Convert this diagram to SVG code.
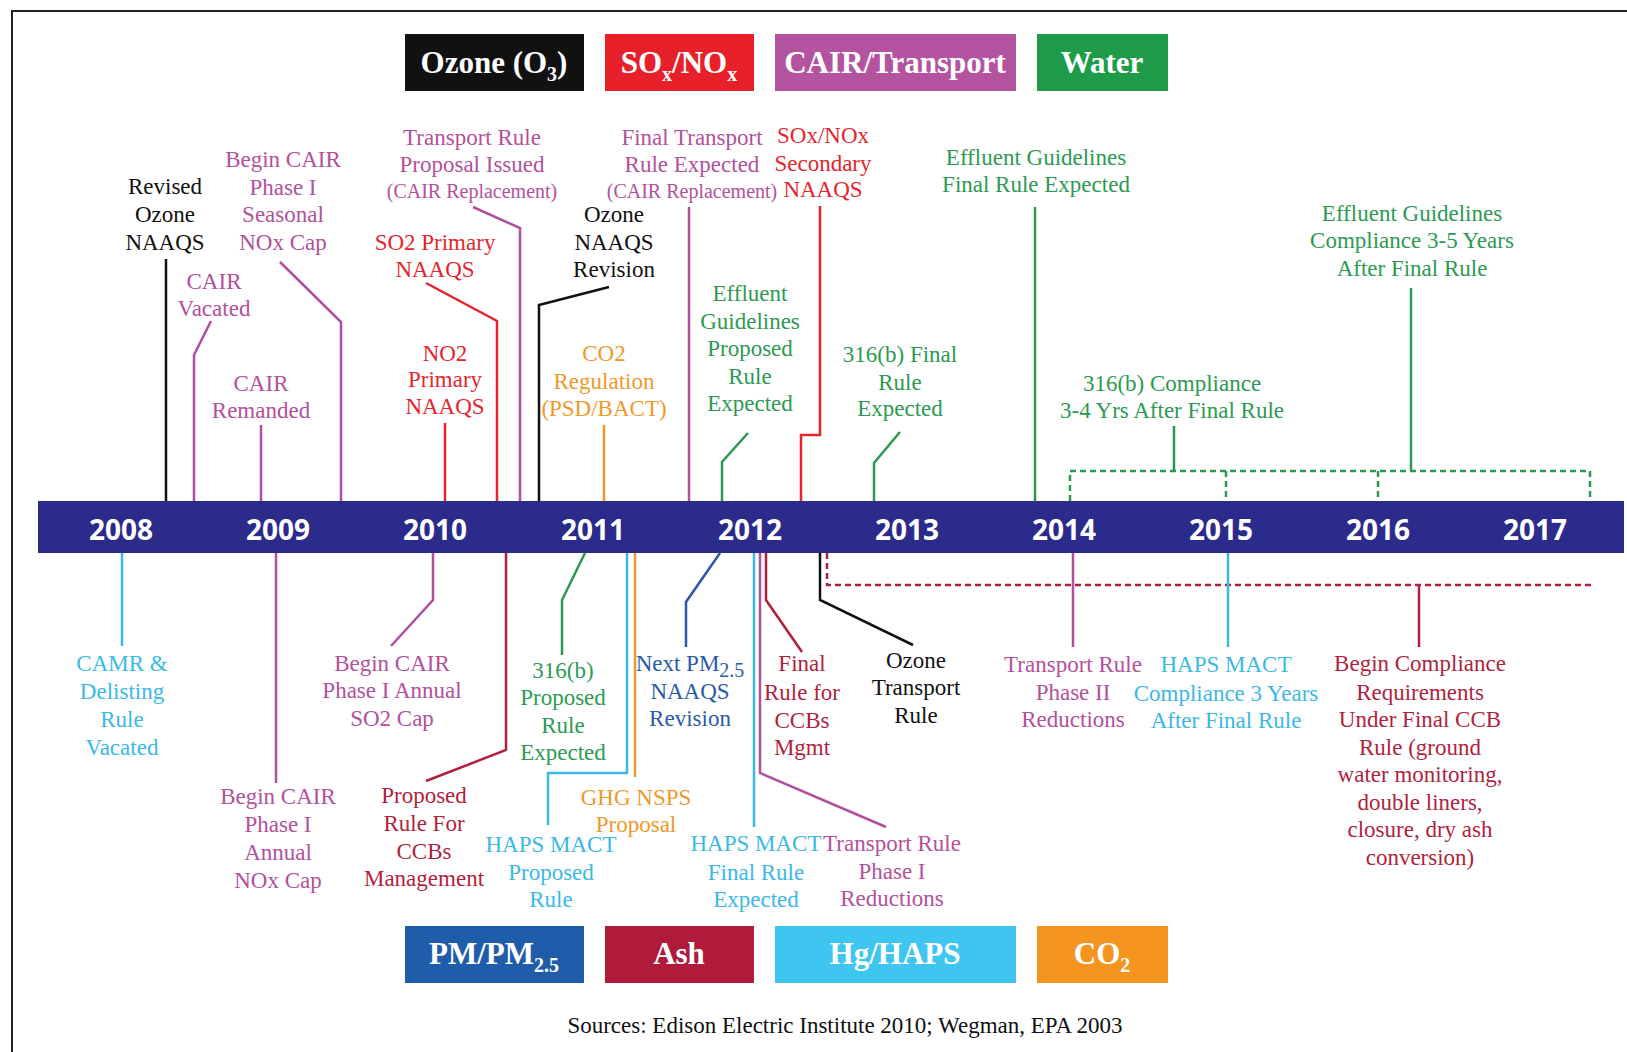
<svg xmlns="http://www.w3.org/2000/svg" width="1627" height="1052" viewBox="0 0 1627 1052">
<style>
text{font-family:"Liberation Serif","Times New Roman",serif}
.t{font-size:23px;text-anchor:middle}
.s{font-size:20px}
.oz{fill:#111}.sx{fill:#e3262e}.ca{fill:#b4509c}.wa{fill:#2c9a52}.pm{fill:#2a5aa8}.as{fill:#b21f3e}.hg{fill:#3ab9e6}.co{fill:#f0982a}
.l{fill:none;stroke-width:2.5}
.loz{stroke:#111}.lsx{stroke:#e3262e}.lca{stroke:#b04fa0}.lwa{stroke:#2a9a50}.lpm{stroke:#2a5aa8}.las{stroke:#b21f3e}.lhg{stroke:#3ab9e6}.lco{stroke:#f0982a}
.d{stroke-dasharray:6 4}
.lg{font-size:31px;font-weight:bold;fill:#fff;text-anchor:middle}
.sb{font-size:20px}
.yr{font-family:"Open Sans","DejaVu Sans",sans-serif;font-weight:bold;font-size:28px;fill:#fff;text-anchor:middle}
</style>
<rect width="1627" height="1052" fill="#fff"/>
<path d="M12 1052 V11 H1627" fill="none" stroke="#222" stroke-width="2"/>

<g id="legend-top">
<g id="leg-ozone"><rect x="405" y="34" width="179" height="57" fill="#111"/><text class="lg" x="494" y="73">Ozone (O<tspan class="sb" dy="8">3</tspan><tspan dy="-8">)</tspan></text></g>
<g id="leg-sox"><rect x="605" y="34" width="149" height="57" fill="#e8202a"/><text class="lg" x="679" y="73">SO<tspan class="sb" dy="8">x</tspan><tspan dy="-8">/NO</tspan><tspan class="sb" dy="8">x</tspan></text></g>
<g id="leg-cair"><rect x="775" y="34" width="241" height="57" fill="#b4539f"/><text class="lg" x="895" y="73">CAIR/Transport</text></g>
<g id="leg-water"><rect x="1037" y="34" width="131" height="57" fill="#1e9c4a"/><text class="lg" x="1102" y="73">Water</text></g>
</g>

<g id="timeline">
<rect x="38" y="501" width="1586" height="52" fill="#2b2b8c"/>
<text class="yr" x="121" y="540">2008</text>
<text class="yr" x="278" y="540">2009</text>
<text class="yr" x="435" y="540">2010</text>
<text class="yr" x="593" y="540">2011</text>
<text class="yr" x="750" y="540">2012</text>
<text class="yr" x="907" y="540">2013</text>
<text class="yr" x="1064" y="540">2014</text>
<text class="yr" x="1221" y="540">2015</text>
<text class="yr" x="1378" y="540">2016</text>
<text class="yr" x="1535" y="540">2017</text>
</g>

<g id="connectors">
<path class="l loz" d="M166 259 V501"/>
<path class="l lca" d="M280 262 L341 322 V501"/>
<path class="l lca" d="M211 321 L194 355 V501"/>
<path class="l lca" d="M261 425 V501"/>
<path class="l lca" d="M473 207 L520 228 V501"/>
<path class="l lsx" d="M426 283 L497 321 V501"/>
<path class="l lsx" d="M445 423 V501"/>
<path class="l loz" d="M609 287 L539 305 V501"/>
<path class="l lco" d="M604 425 V501"/>
<path class="l lca" d="M689 207 V501"/>
<path class="l lsx" d="M820 206 V435 H801 V501"/>
<path class="l lwa" d="M748 433 L722 462 V501"/>
<path class="l lwa" d="M900 432 L874 463 V501"/>
<path class="l lwa" d="M1035 207 V501"/>
<path class="l lwa" d="M1411 288 V471"/>
<path class="l lwa" d="M1174 426 V471"/>
<path class="l lwa d" d="M1070 501 V471 H1590 V501 M1226 471 V501 M1378 471 V501"/>

<path class="l lhg" d="M122 553 V646"/>
<path class="l lca" d="M276 553 V783"/>
<path class="l lca" d="M433 553 V600 L391 646"/>
<path class="l las" d="M506 553 V750 L426 781"/>
<path class="l lwa" d="M585 553 L562 600 V655"/>
<path class="l lpm" d="M720 553 L686 602 V647"/>
<path class="l lco" d="M635 553 V777"/>
<path class="l lhg" d="M627 553 V773 H548 V825"/>
<path class="l las" d="M766 553 V600 L802 652"/>
<path class="l lca" d="M760 553 V773 L886 827"/>
<path class="l lhg" d="M754 553 V827"/>
<path class="l loz" d="M820 553 V600 L913 645"/>
<path class="l las d" d="M827 553 V585 H1593"/>
<path class="l lca" d="M1073 553 V647"/>
<path class="l lhg" d="M1228 553 V647"/>
<path class="l las" d="M1419 585 V647"/>
</g>

<g id="n-revised-ozone"><text class="t oz"><tspan x="165" y="194">Revised</tspan><tspan x="165" y="222">Ozone</tspan><tspan x="165" y="250">NAAQS</tspan></text></g>
<g id="n-cair-seasonal"><text class="t ca"><tspan x="283" y="167">Begin CAIR</tspan><tspan x="283" y="195">Phase I</tspan><tspan x="283" y="222">Seasonal</tspan><tspan x="283" y="250">NOx Cap</tspan></text></g>
<g id="n-cair-vacated"><text class="t ca"><tspan x="214" y="289">CAIR</tspan><tspan x="214" y="316">Vacated</tspan></text></g>
<g id="n-cair-remanded"><text class="t ca"><tspan x="261" y="391">CAIR</tspan><tspan x="261" y="418">Remanded</tspan></text></g>
<g id="n-transport-proposal"><text class="t ca"><tspan x="472" y="145">Transport Rule</tspan><tspan x="472" y="172">Proposal Issued</tspan><tspan class="s" x="472" y="198">(CAIR Replacement)</tspan></text></g>
<g id="n-so2-primary"><text class="t sx"><tspan x="435" y="250">SO2 Primary</tspan><tspan x="435" y="277">NAAQS</tspan></text></g>
<g id="n-no2-primary"><text class="t sx"><tspan x="445" y="361">NO2</tspan><tspan x="445" y="387">Primary</tspan><tspan x="445" y="414">NAAQS</tspan></text></g>
<g id="n-ozone-revision"><text class="t oz"><tspan x="614" y="222">Ozone</tspan><tspan x="614" y="250">NAAQS</tspan><tspan x="614" y="277">Revision</tspan></text></g>
<g id="n-co2-regulation"><text class="t co"><tspan x="604" y="361">CO2</tspan><tspan x="604" y="389">Regulation</tspan><tspan x="604" y="416">(PSD/BACT)</tspan></text></g>
<g id="n-final-transport"><text class="t ca"><tspan x="692" y="145">Final Transport</tspan><tspan x="692" y="172">Rule Expected</tspan><tspan class="s" x="692" y="198">(CAIR Replacement)</tspan></text></g>
<g id="n-sox-secondary"><text class="t sx"><tspan x="823" y="143">SOx/NOx</tspan><tspan x="823" y="171">Secondary</tspan><tspan x="823" y="197">NAAQS</tspan></text></g>
<g id="n-effluent-proposed"><text class="t wa"><tspan x="750" y="301">Effluent</tspan><tspan x="750" y="329">Guidelines</tspan><tspan x="750" y="356">Proposed</tspan><tspan x="750" y="384">Rule</tspan><tspan x="750" y="411">Expected</tspan></text></g>
<g id="n-316b-final"><text class="t wa"><tspan x="900" y="362">316(b) Final</tspan><tspan x="900" y="390">Rule</tspan><tspan x="900" y="416">Expected</tspan></text></g>
<g id="n-effluent-final"><text class="t wa"><tspan x="1036" y="165">Effluent Guidelines</tspan><tspan x="1036" y="192">Final Rule Expected</tspan></text></g>
<g id="n-effluent-compliance"><text class="t wa"><tspan x="1412" y="221">Effluent Guidelines</tspan><tspan x="1412" y="248">Compliance 3-5 Years</tspan><tspan x="1412" y="276">After Final Rule</tspan></text></g>
<g id="n-316b-compliance"><text class="t wa"><tspan x="1172" y="391">316(b) Compliance</tspan><tspan x="1172" y="418">3-4 Yrs After Final Rule</tspan></text></g>

<g id="n-camr"><text class="t hg"><tspan x="122" y="671">CAMR &amp;</tspan><tspan x="122" y="699">Delisting</tspan><tspan x="122" y="727">Rule</tspan><tspan x="122" y="755">Vacated</tspan></text></g>
<g id="n-cair-annual-nox"><text class="t ca"><tspan x="278" y="804">Begin CAIR</tspan><tspan x="278" y="832">Phase I</tspan><tspan x="278" y="860">Annual</tspan><tspan x="278" y="888">NOx Cap</tspan></text></g>
<g id="n-cair-annual-so2"><text class="t ca"><tspan x="392" y="671">Begin CAIR</tspan><tspan x="392" y="698">Phase I Annual</tspan><tspan x="392" y="726">SO2 Cap</tspan></text></g>
<g id="n-proposed-ccb"><text class="t as"><tspan x="424" y="803">Proposed</tspan><tspan x="424" y="831">Rule For</tspan><tspan x="424" y="859">CCBs</tspan><tspan x="424" y="886">Management</tspan></text></g>
<g id="n-316b-proposed"><text class="t wa"><tspan x="563" y="678">316(b)</tspan><tspan x="563" y="705">Proposed</tspan><tspan x="563" y="733">Rule</tspan><tspan x="563" y="760">Expected</tspan></text></g>
<g id="n-next-pm"><text class="t pm"><tspan x="690" y="671">Next PM<tspan class="sb" dy="6">2.5</tspan></tspan><tspan x="690" y="699">NAAQS</tspan><tspan x="690" y="726">Revision</tspan></text></g>
<g id="n-ghg-nsps"><text class="t co"><tspan x="636" y="805">GHG NSPS</tspan><tspan x="636" y="832">Proposal</tspan></text></g>
<g id="n-haps-proposed"><text class="t hg"><tspan x="551" y="852">HAPS MACT</tspan><tspan x="551" y="880">Proposed</tspan><tspan x="551" y="907">Rule</tspan></text></g>
<g id="n-final-ccb"><text class="t as"><tspan x="802" y="671">Final</tspan><tspan x="802" y="700">Rule for</tspan><tspan x="802" y="728">CCBs</tspan><tspan x="802" y="755">Mgmt</tspan></text></g>
<g id="n-transport-phase1"><text class="t ca"><tspan x="892" y="851">Transport Rule</tspan><tspan x="892" y="879">Phase I</tspan><tspan x="892" y="906">Reductions</tspan></text></g>
<g id="n-haps-final"><text class="t hg"><tspan x="756" y="851">HAPS MACT</tspan><tspan x="756" y="880">Final Rule</tspan><tspan x="756" y="907">Expected</tspan></text></g>
<g id="n-ozone-transport"><text class="t oz"><tspan x="916" y="668">Ozone</tspan><tspan x="916" y="695">Transport</tspan><tspan x="916" y="723">Rule</tspan></text></g>
<g id="n-transport-phase2"><text class="t ca"><tspan x="1073" y="672">Transport Rule</tspan><tspan x="1073" y="700">Phase II</tspan><tspan x="1073" y="727">Reductions</tspan></text></g>
<g id="n-haps-compliance"><text class="t hg"><tspan x="1226" y="672">HAPS MACT</tspan><tspan x="1226" y="701">Compliance 3 Years</tspan><tspan x="1226" y="728">After Final Rule</tspan></text></g>
<g id="n-ccb-compliance"><text class="t as"><tspan x="1420" y="671">Begin Compliance</tspan><tspan x="1420" y="700">Requirements</tspan><tspan x="1420" y="727">Under Final CCB</tspan><tspan x="1420" y="755">Rule (ground</tspan><tspan x="1420" y="782">water monitoring,</tspan><tspan x="1420" y="810">double liners,</tspan><tspan x="1420" y="837">closure, dry ash</tspan><tspan x="1420" y="865">conversion)</tspan></text></g>

<g id="legend-bottom">
<g id="leg-pm"><rect x="405" y="926" width="179" height="57" fill="#1f5dab"/><text class="lg" x="494" y="964">PM/PM<tspan class="sb" dy="8">2.5</tspan></text></g>
<g id="leg-ash"><rect x="605" y="926" width="149" height="57" fill="#b01b3b"/><text class="lg" x="679" y="964">Ash</text></g>
<g id="leg-hg"><rect x="775" y="926" width="241" height="57" fill="#3ec6f0"/><text class="lg" x="895" y="964">Hg/HAPS</text></g>
<g id="leg-co2"><rect x="1037" y="926" width="131" height="57" fill="#f4951f"/><text class="lg" x="1102" y="964">CO<tspan class="sb" dy="8">2</tspan></text></g>
</g>

<text id="sources" x="845" y="1033" font-size="23" text-anchor="middle" fill="#111">Sources: Edison Electric Institute 2010; Wegman, EPA 2003</text>
</svg>
